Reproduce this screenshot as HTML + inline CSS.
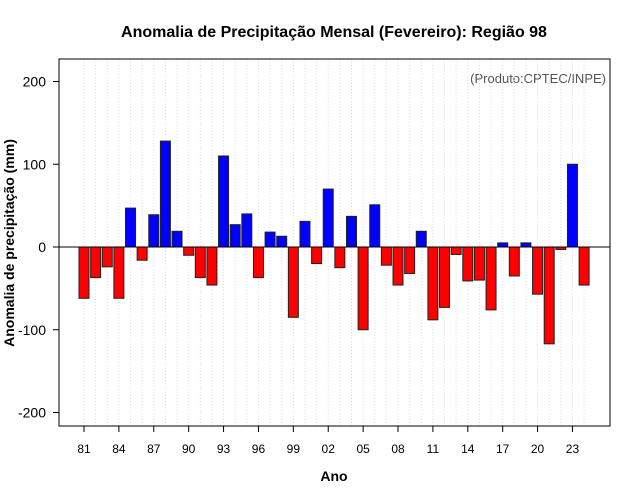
<!DOCTYPE html>
<html><head><meta charset="utf-8"><style>body{margin:0;background:#fff}svg{display:block}text{font-family:"Liberation Sans",sans-serif}</style></head>
<body>
<svg id="chart" width="640" height="500">
<text x="334" y="37" text-anchor="middle" font-size="16" font-weight="bold">Anomalia de Precipitação Mensal (Fevereiro): Região 98</text>
<text transform="translate(14,243) rotate(-90)" text-anchor="middle" font-size="14" font-weight="bold">Anomalia de precipitação (mm)</text>
<text x="334" y="481" text-anchor="middle" font-size="14" font-weight="bold">Ano</text>
<text x="606" y="83" text-anchor="end" font-size="13" fill="#555">(Produto:CPTEC/INPE)</text>
<g id="grid"></g><g id="bars"></g><g id="axes"></g>
<rect x="59" y="59" width="551" height="367" fill="none" stroke="#000"/>
</svg>
<script>
const years=[1981,1982,1983,1984,1985,1986,1987,1988,1989,1990,1991,1992,1993,1994,1995,1996,1997,1998,1999,2000,2001,2002,2003,2004,2005,2006,2007,2008,2009,2010,2011,2012,2013,2014,2015,2016,2017,2018,2019,2020,2021,2022,2023,2024];
const anomalies=[-62,-37,-24,-62,47,-16,39,128,19,-10,-37,-46,110,27,40,-37,18,13,-85,31,-20,70,-25,37,-100,51,-22,-46,-32,19,-88,-73,-9,-41,-40,-76,5,-35,5,-57,-117,-3,100,-46];
const yTicks=[200,100,0,-100,-200];
const xTickYears=[1981,1984,1987,1990,1993,1996,1999,2002,2005,2008,2011,2014,2017,2020,2023];
const NS='http://www.w3.org/2000/svg';
const xS=y=>84+(y-1981)*11.63;
const yS=v=>247-v*0.8275;
function mk(t,a,p){const e=document.createElementNS(NS,t);for(const k in a)e.setAttribute(k,a[k]);p.appendChild(e);return e;}
const G=document.getElementById('grid'),B=document.getElementById('bars'),A=document.getElementById('axes');
years.forEach(y=>{const l=mk('line',{x1:xS(y),x2:xS(y),y1:59,y2:426,stroke:'#ddd','stroke-dasharray':'1,2'},G);

});
years.forEach((y,i)=>{const v=anomalies[i];const r=mk('rect',{x:xS(y)-5,y:Math.min(yS(v),yS(0)),width:10,height:Math.abs(yS(v)-yS(0)),fill:v>=0?'#0000ff':'#ff0000',stroke:'#222','stroke-width':1},B);

});
const z=mk('line',{x1:59,x2:610,y1:yS(0),y2:yS(0),stroke:'#000'},A);


yTicks.forEach(v=>{mk('line',{x1:53,x2:59,y1:yS(v),y2:yS(v),stroke:'#000'},A);
const t=mk('text',{x:46,y:yS(v)+5,'text-anchor':'end','font-size':14},A);t.textContent=v;

});
xTickYears.forEach(y=>{mk('line',{x1:xS(y),x2:xS(y),y1:426,y2:432,stroke:'#000'},A);
const t=mk('text',{x:xS(y),y:453,'text-anchor':'middle','font-size':12},A);t.textContent=String(y).slice(2);

});
</script>
</body></html>
